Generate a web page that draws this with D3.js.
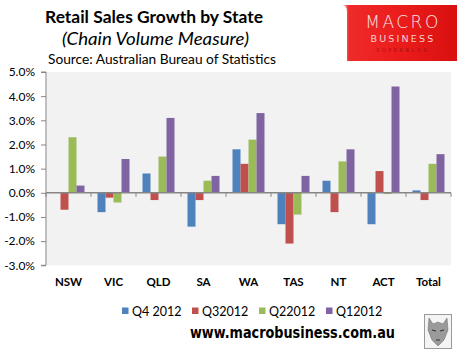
<!DOCTYPE html>
<html><head><meta charset="utf-8">
<script src="https://cdn.jsdelivr.net/npm/d3@7"></script>
<style>body{margin:0;background:#fff}svg{display:block}</style>
</head><body>
<script>
const categories = ["NSW","VIC","QLD","SA","WA","TAS","NT","ACT","Total"];
const seriesNames = ["Q4 2012","Q32012","Q22012","Q12012"];
const q4_2012 = [0.0,-0.8,0.8,-1.4,1.8,-1.3,0.5,-1.3,0.1];
const q3_2012 = [-0.7,-0.2,-0.3,-0.3,1.2,-2.1,-0.8,0.9,-0.3];
const q2_2012 = [2.3,-0.4,1.5,0.5,2.2,-0.9,1.3,-0.05,1.2];
const q1_2012 = [0.3,1.4,3.1,0.7,3.3,0.7,1.8,4.4,1.6];
const yTicks = [-3,-2,-1,0,1,2,3,4,5];
const colors = ["#4F81BD","#C0504D","#9BBB59","#8064A2"];
const seriesValues = [q4_2012,q3_2012,q2_2012,q1_2012];

const W = 466, H = 356;
const svg = d3.select("body").append("svg").attr("width",W).attr("height",H);
const font = "Lato, 'Open Sans', sans-serif";

// Plot geometry
const pLeft = 46, pRight = 451, pTop = 72, pBottom = 265.3;
const y = d3.scaleLinear().domain([-3,5]).range([pBottom, pTop]);
const x0 = d3.scaleBand().domain(categories).range([pLeft, pRight]).padding(0);
const x1 = d3.scaleBand().domain(seriesNames).range([6.5, x0.bandwidth()-6.5]).padding(0);

// plot background
svg.append("rect").attr("x",pLeft).attr("y",pTop).attr("width",pRight-pLeft).attr("height",pBottom-pTop).attr("fill","#F2F2F2");

// bars
const groups = svg.append("g").selectAll("g").data(categories).join("g")
  .attr("transform", d => `translate(${x0(d)},0)`);
groups.selectAll("rect").data((c,i) => seriesNames.map((s,k) => ({s, v: seriesValues[k][i], k})))
  .join("rect")
  .attr("x", d => x1(d.s))
  .attr("width", x1.bandwidth())
  .attr("y", d => y(Math.max(0,d.v)))
  .attr("height", d => Math.abs(y(d.v)-y(0)))
  .attr("fill", d => colors[d.k]);

// y axis
const yAxis = d3.axisLeft(y).tickValues(yTicks).tickFormat(d => d.toFixed(1)+"%").tickSize(5).tickPadding(6);
const gy = svg.append("g").attr("transform",`translate(${pLeft},0)`).call(yAxis);
gy.select(".domain").attr("stroke","#868686").attr("d",`M-5,${pBottom}H0V${pTop}H-5`);
gy.selectAll(".tick line").attr("stroke","#868686");
gy.selectAll(".tick text").attr("font-family",font).attr("font-size",12).attr("fill","#000");

// x axis at zero
const xAxis = d3.axisBottom(x0).tickSize(0).tickFormat("");
const gx = svg.append("g").attr("transform",`translate(0,${y(0)})`).call(xAxis);
gx.select(".domain").attr("stroke","#868686").attr("stroke-width",1.5).attr("d",`M${pLeft},0H${pRight}`);
gx.selectAll(".tick").remove();
const bounds = categories.map(c => x0(c)+x0.bandwidth()).concat([pLeft]);
gx.selectAll("line.bt").data(bounds).join("line").attr("class","bt")
  .attr("x1",d=>d).attr("x2",d=>d).attr("y1",0).attr("y2",4).attr("stroke","#868686");

// category labels
svg.append("g").selectAll("text").data(categories).join("text")
  .attr("x", d => x0(d)+x0.bandwidth()/2).attr("y", 286)
  .attr("text-anchor","middle").attr("font-family",font).attr("font-weight","bold")
  .attr("font-size",11.5).attr("fill","#000").text(d=>d);

// legend
const legendX = [122,192,259,326];
const lg = svg.append("g").selectAll("g").data(seriesNames).join("g")
  .attr("transform",(d,i)=>`translate(${legendX[i]},311)`);
lg.append("rect").attr("x",0).attr("y",-3.5).attr("width",6.5).attr("height",6.5).attr("fill",(d,i)=>colors[i]);
lg.append("text").attr("x",10).attr("y",4.5).attr("font-family",font).attr("font-size",12.5).attr("fill","#000").text(d=>d);

// titles
svg.append("text").attr("x",45).attr("y",23).attr("font-family",font).attr("font-weight","bold")
  .attr("font-size",17.5).attr("textLength",218).attr("lengthAdjust","spacingAndGlyphs").attr("fill","#000")
  .text("Retail Sales Growth by State");
svg.append("text").attr("x",62).attr("y",45).attr("font-family",font).attr("font-style","italic")
  .attr("font-size",17).attr("textLength",187).attr("lengthAdjust","spacingAndGlyphs").attr("fill","#000")
  .text("(Chain Volume Measure)");
svg.append("text").attr("x",48).attr("y",64).attr("font-family",font)
  .attr("font-size",14).attr("textLength",228).attr("lengthAdjust","spacingAndGlyphs").attr("fill","#000")
  .text("Source: Australian Bureau of Statistics");

// url
svg.append("text").attr("x",190).attr("y",338).attr("font-family","'DejaVu Sans', Verdana, sans-serif").attr("font-weight","bold")
  .attr("font-size",15).attr("textLength",205).attr("lengthAdjust","spacingAndGlyphs").attr("fill","#000")
  .text("www.macrobusiness.com.au");

// logo
const defs = svg.append("defs");
const grad = defs.append("linearGradient").attr("id","lg1").attr("x1","0").attr("y1","0").attr("x2","1").attr("y2","0");
grad.append("stop").attr("offset","0").attr("stop-color","#f7c9c9");
grad.append("stop").attr("offset","0.06").attr("stop-color","#ee2a2a");
grad.append("stop").attr("offset","0.5").attr("stop-color","#ec1c1c");
grad.append("stop").attr("offset","1").attr("stop-color","#d81010");
svg.append("path").attr("d","M342,5H457V61H347V12Q347,5 342,5Z").attr("fill","url(#lg1)");
svg.append("text").attr("x",403).attr("y",28).attr("text-anchor","middle").attr("font-family","'DejaVu Sans', sans-serif")
  .attr("font-weight","300").attr("font-size",17).attr("letter-spacing",2.5).attr("fill","#fbe3e3").text("MACRO");
svg.append("text").attr("x",403).attr("y",42).attr("text-anchor","middle").attr("font-family","'DejaVu Sans', sans-serif")
  .attr("font-size",9.5).attr("letter-spacing",2.2).attr("fill","#f8d0d0").text("BUSINESS");
svg.append("text").attr("x",403).attr("y",52).attr("text-anchor","middle").attr("font-family","'DejaVu Sans', sans-serif")
  .attr("font-size",5).attr("letter-spacing",2.6).attr("fill","#a51010").text("SUPERBLOG");

// wolf thumbnail
svg.append("rect").attr("x",424.5).attr("y",314.5).attr("width",27).attr("height",34).attr("fill","#f4f4f4").attr("stroke","#9a9a9a").attr("stroke-width",1);
svg.append("path").attr("d","M429,318 L433,324 L438,322 L443,324 L447,318 L448,330 L444,340 L438,346 L432,340 L428,330 Z")
  .attr("fill","#9a9a9a").attr("stroke","#666").attr("stroke-width",0.5);
svg.append("path").attr("d","M432,330 L436,331 M440,331 L444,330 M436,340 L440,340").attr("stroke","#333").attr("stroke-width",1);
</script>
</body></html>
